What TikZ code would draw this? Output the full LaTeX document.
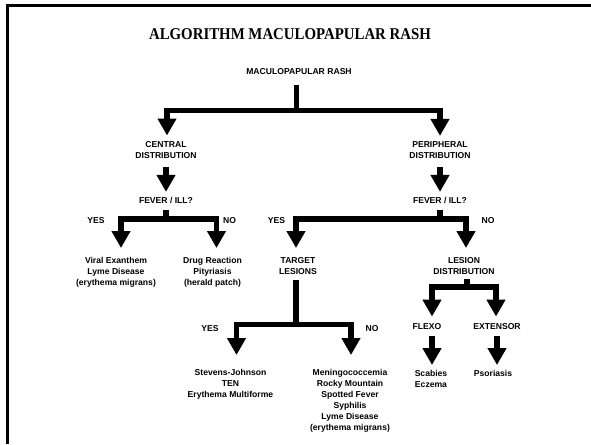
\documentclass[tikz,border=0pt]{standalone}
\usepackage{graphicx}
\usepackage{fontspec}
\setmainfont{Liberation Sans}
\newfontfamily\titlefont{Liberation Serif}
\usetikzlibrary{arrows.meta}

\begin{document}
\begin{tikzpicture}[
  x=1pt, y=1pt,
  font=\fontsize{8.6}{11}\selectfont\bfseries,
  lbl/.style={inner sep=0pt, outer sep=0pt, align=center},
  toplbl/.style={lbl, anchor=north},
  stem/.style={line width=5.5pt},
  branch/.style={line width=5.5pt, -{Triangle[width=18pt,length=17pt]}},
  frameline/.style={line width=2.5pt}
]
\useasboundingbox (0,0) rectangle (591,-444);
\draw[frameline] (7.5,-444) -- (7.5,-5.5) -- (591,-5.5);

\node[font=\titlefont\fontsize{16.5}{18}\selectfont\bfseries] (title) at (290,-34)
  {\scalebox{0.9}[1]{ALGORITHM MACULOPAPULAR RASH}};

% first split
\node[lbl] (mr) at (299,-71.5) {MACULOPAPULAR RASH};
\node[toplbl] (central) at (166,-141.9) {CENTRAL\\DISTRIBUTION};
\node[toplbl] (periph) at (440,-141.9) {PERIPHERAL\\DISTRIBUTION};
\node[lbl] (fevc) at (166,-200.5) {FEVER / ILL?};
\node[lbl] (fevp) at (440,-200.5) {FEVER / ILL?};

% yes / no labels
\node[lbl] (yesc) at (96,-221) {YES};
\node[lbl] (noc) at (229.5,-221) {NO};
\node[lbl] (yesp) at (276.5,-221) {YES};
\node[lbl] (nop) at (488,-221) {NO};
\node[lbl] (yess) at (210,-329) {YES};
\node[lbl] (nos) at (372,-329) {NO};

\node[toplbl] (viral) at (116,-257.4) {Viral Exanthem\\Lyme Disease\\(erythema migrans)};
\node[toplbl] (drug) at (212.5,-257.4) {Drug Reaction\\Pityriasis\\(herald patch)};
\node[toplbl] (target) at (298,-257.9) {TARGET\\LESIONS};
\node[toplbl] (lesion) at (464,-257.9) {LESION\\DISTRIBUTION};
\node[toplbl] (sj) at (230.5,-368.9) {Stevens-Johnson\\TEN\\Erythema Multiforme};
\node[toplbl] (men) at (350,-368.9)
  {Meningococcemia\\Rocky Mountain\\Spotted Fever\\Syphilis\\Lyme Disease\\(erythema migrans)};
\node[lbl] (flexo) at (427,-326.5) {FLEXO};
\node[lbl] (ext) at (497,-326.5) {EXTENSOR};
\node[toplbl] (scab) at (431,-369.9) {Scabies\\Eczema};
\node[toplbl] (psor) at (493,-369.9) {Psoriasis};

% junctions of the bars
\coordinate (j1) at (296.5,-110.5);
\coordinate (j2) at (166,-219);
\coordinate (j3) at (440,-219);
\coordinate (j4) at (296,-324.5);
\coordinate (j5) at (467,-287);

\draw[stem, shorten <=10.4pt] (mr.south -| j1) -- (j1);
\draw[branch, shorten >=6.4pt] (j1) -| ([xshift=1pt]central.north);
\draw[branch, shorten >=6pt] (j1) -| (periph.north);
\draw[branch, shorten <=8.4pt, shorten >=5.4pt] (central) -- (fevc);
\draw[branch, shorten <=8.4pt, shorten >=5.4pt] (periph) -- (fevp);

\draw[stem, shorten <=6.4pt] (fevc) -- (j2);
\draw[branch, shorten >=9.4pt] (j2) -| ([xshift=5pt]viral.north);
\draw[branch, shorten >=9.4pt] (j2) -| ([xshift=4pt]drug.north);

\draw[stem, shorten <=6.4pt] (fevp) -- (j3);
\draw[branch, shorten >=9.9pt] (j3) -| ([xshift=-2pt]target.north);
\draw[branch, shorten >=9.9pt] (j3) -| ([xshift=2pt]lesion.north);

\draw[stem, shorten <=4.9pt] ([xshift=-2pt]target.south) -- (j4);
\draw[branch, shorten >=13.9pt] (j4) -| ([xshift=6pt]sj.north);
\draw[branch, shorten >=13.9pt] (j4) -| ([xshift=1pt]men.north);

\draw[stem, shorten <=3.9pt] ([xshift=3pt]lesion.south) -- (j5);
\draw[branch, shorten >=6.9pt] (j5) -| ([xshift=5pt]flexo.north);
\draw[branch, shorten >=6.9pt] (j5) -| ([xshift=-1pt]ext.north);
\draw[branch, shorten <=6.4pt, shorten >=4.9pt] ([xshift=5pt]flexo.south) -- ([xshift=1pt]scab.north);
\draw[branch, shorten <=6.4pt, shorten >=4.9pt] (ext.south) -- ([xshift=4pt]psor.north);
\end{tikzpicture}
\end{document}
